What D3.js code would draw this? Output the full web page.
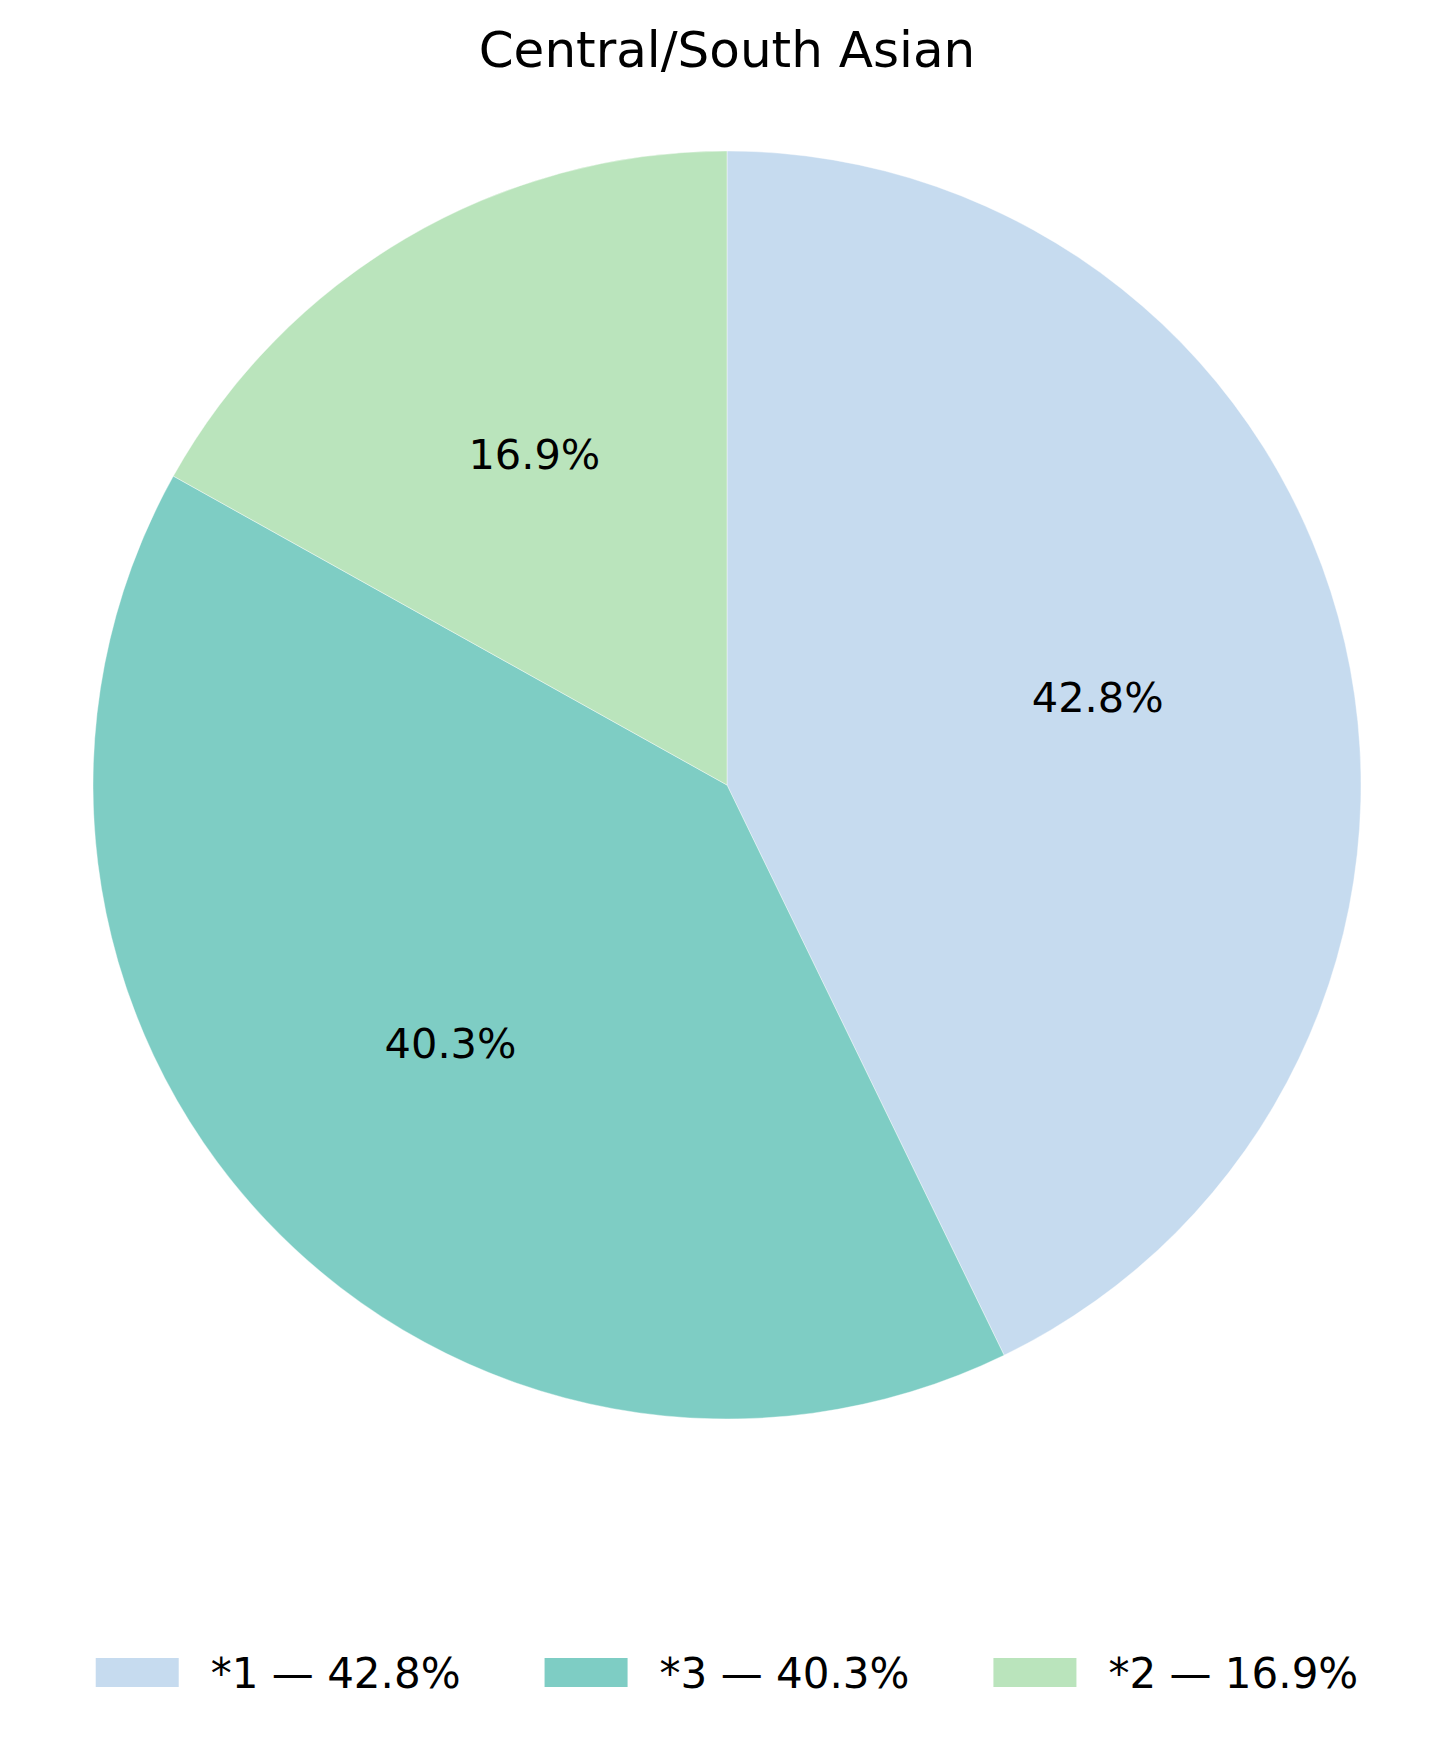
<!DOCTYPE html>
<html>
<head>
<meta charset="utf-8">
<script src="https://cdn.jsdelivr.net/npm/d3@7"></script>
<style>
	body { margin: 0; background: #fff; }
	text { font-family: 'DejaVu Sans', sans-serif; fill: #000; }
</style>
</head>
<body>
<script>

var title = 'Central/South Asian';
var categories = ['*1', '*3', '*2'];
var shares = [42.8, 40.3, 16.9];
var colors = ['#c6dbef', '#7ecdc4', '#bae4bc'];

var width = 1455,
	height = 1743;

var cx = 727,
	cy = 785,
	radius = 634;

var svg = d3.select('body').append('svg')
	.attr('width', width)
	.attr('height', height);

var g = svg.append('g')
	.attr('transform', 'translate(' + cx + ',' + cy + ')');

var data = categories.map(function(c, i) {
	return { name: c, value: shares[i], color: colors[i] };
});

var pie = d3.pie()
	.sort(null)
	.value(function(d) { return d.value; });

var arc = d3.arc()
	.innerRadius(0)
	.outerRadius(radius);

// label sits at 0.6 of the radius, like pctdistance
var labelArc = d3.arc()
	.innerRadius(radius * 0.6)
	.outerRadius(radius * 0.6);

var arcs = pie(data);

g.selectAll('path.slice')
	.data(arcs)
	.enter().append('path')
		.attr('class', 'slice')
		.attr('d', arc)
		.style('fill', function(d) { return d.data.color; })
		.attr('stroke', '#fff')
		.attr('stroke-width', 0.4);

g.selectAll('text.pct')
	.data(arcs)
	.enter().append('text')
		.attr('class', 'pct')
		.attr('transform', function(d) { return 'translate(' + labelArc.centroid(d) + ')'; })
		.attr('dy', '0.29em')
		.attr('text-anchor', 'middle')
		.style('font-size', '41.5px')
		.text(function(d) { return d3.format('.1f')(d.data.value) + '%'; });

svg.append('text')
	.attr('x', cx)
	.attr('y', 67)
	.attr('text-anchor', 'middle')
	.style('font-size', '50px')
	.text(title);

// legend, one row, centered under the pie
var handleW = 83,
	handleH = 29,
	textPad = 32,
	colGap = 84;

var legend = svg.append('g');

var items = legend.selectAll('g.item')
	.data(data)
	.enter().append('g')
		.attr('class', 'item');

items.append('rect')
	.attr('x', 0)
	.attr('y', 1658)
	.attr('width', handleW)
	.attr('height', handleH)
	.style('fill', function(d) { return d.color; });

items.append('text')
	.attr('x', handleW + textPad)
	.attr('y', 1688)
	.style('font-size', '42px')
	.text(function(d) { return d.name + ' \u2014 ' + d3.format('.1f')(d.value) + '%'; });

var widths = [];
items.each(function() {
	widths.push(handleW + textPad + d3.select(this).select('text').node().getComputedTextLength());
});

var total = d3.sum(widths) + colGap * (widths.length - 1);
var xPos = cx - total / 2;

items.attr('transform', function(d, i) {
	var x = xPos;
	xPos += widths[i] + colGap;
	return 'translate(' + x + ',0)';
});

</script>
</body>
</html>
